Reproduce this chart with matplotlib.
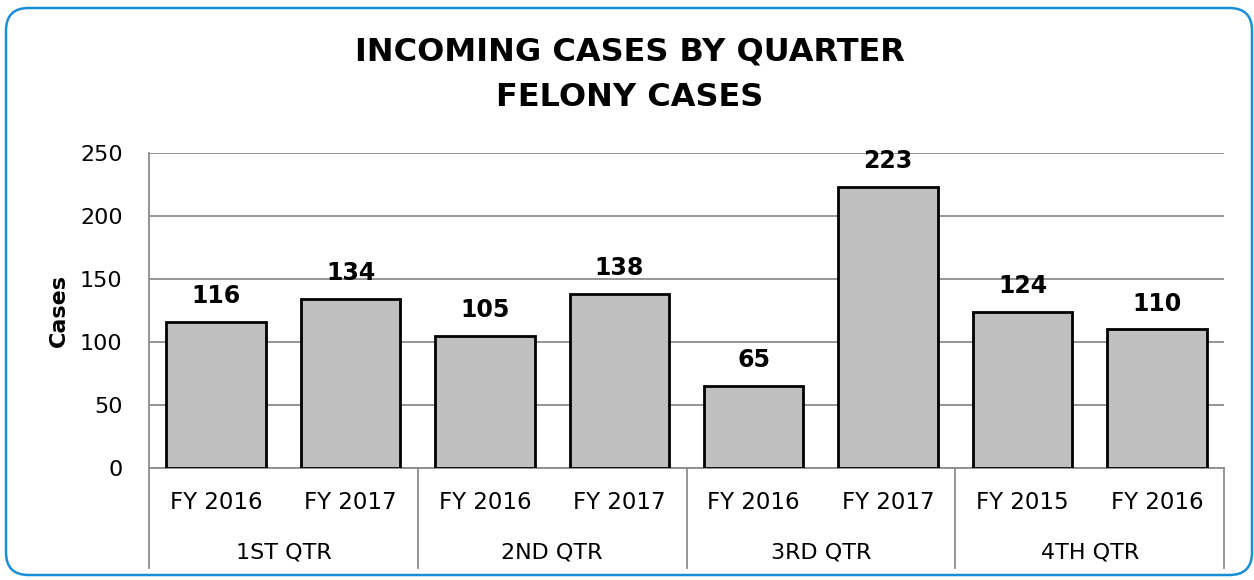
import matplotlib.pyplot as plt
from matplotlib.patches import FancyBboxPatch
from matplotlib.lines import Line2D

# datos del gráfico
quarters = ["1ST QTR", "2ND QTR", "3RD QTR", "4TH QTR"]
years = ["FY 2016", "FY 2017", "FY 2016", "FY 2017", "FY 2016", "FY 2017", "FY 2015", "FY 2016"]
cases = [116, 134, 105, 138, 65, 223, 124, 110]

plt.rcParams["font.family"] = ["DejaVu Sans"]

fig = plt.figure(figsize=(12.54, 5.8), dpi=100)

# marco redondeado azul
frame = FancyBboxPatch((6 / 1254, 5 / 580), 1246 / 1254, 567 / 580,
                       boxstyle="round,pad=0,rounding_size=0.018",
                       transform=fig.transFigure, facecolor="none", zorder=-1,
                       edgecolor="#1b8fd6", linewidth=1.8, mutation_aspect=1254 / 580)
fig.patches.append(frame)

ax = fig.add_axes([149 / 1254, 1 - 468 / 580, 1075 / 1254, 315 / 580])
ax.set_facecolor("none")

x = list(range(len(cases)))
ax.bar(x, cases, width=0.74, color="#bfbfbf", edgecolor="black", linewidth=2, zorder=3)
for xi, v in zip(x, cases):
    ax.text(xi, v + 11, str(v), ha="center", va="bottom", fontsize=17, fontweight="bold")

ax.set_xlim(-0.5, len(cases) - 0.5)
ax.set_ylim(0, 250)
ax.set_yticks(range(0, 251, 50))
ax.tick_params(axis="y", length=0, labelsize=16, pad=19)
ax.tick_params(axis="x", length=0, labelbottom=False)
ax.grid(True, axis="y", color="#8c8c8c", linewidth=1.3, zorder=0)
for side in ["top", "right"]:
    ax.spines[side].set_visible(False)
for side in ["left", "bottom"]:
    ax.spines[side].set_color("#8c8c8c")
    ax.spines[side].set_linewidth(1.3)
ax.set_ylabel("Cases", fontsize=16, fontweight="bold", labelpad=8)

# etiquetas de categorías en dos niveles
trans = ax.get_xaxis_transform()
for xi, yr in zip(x, years):
    ax.text(xi, -0.108, yr, ha="center", va="center", fontsize=16.5, transform=trans)
for i, q in enumerate(quarters):
    ax.text(2 * i + 0.5, -0.267, q, ha="center", va="center", fontsize=16, transform=trans)
for i in range(len(quarters) + 1):
    ax.add_line(Line2D([2 * i - 0.5, 2 * i - 0.5], [0, -0.317], transform=trans,
                       color="#8c8c8c", linewidth=1.3, clip_on=False))

fig.text(630 / 1254, 1 - 52 / 580, "INCOMING CASES BY QUARTER",
         ha="center", va="center", fontsize=23, fontweight="bold")
fig.text(630 / 1254, 1 - 98 / 580, "FELONY CASES",
         ha="center", va="center", fontsize=23, fontweight="bold")

fig.savefig("out.png", dpi=100)
